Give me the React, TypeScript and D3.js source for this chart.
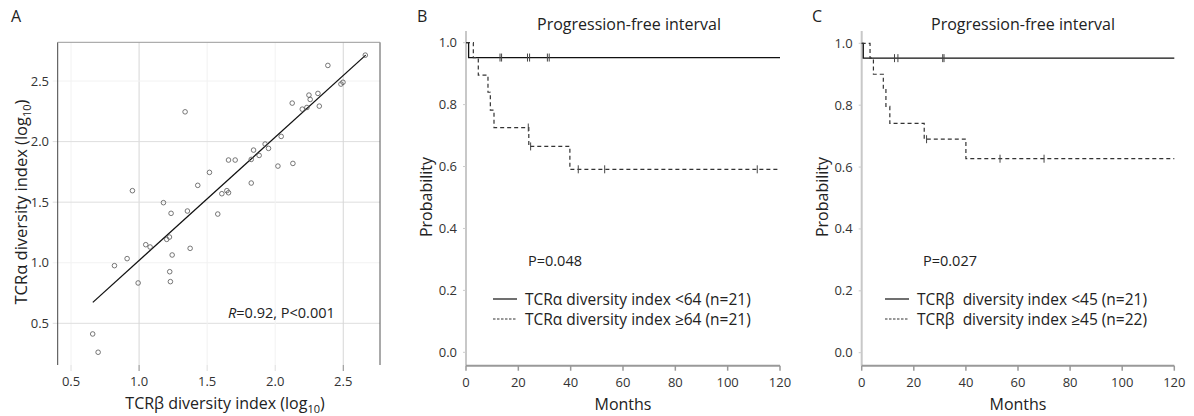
import React from "react";
import * as d3 from "d3";

// ---------- Panel A data ----------
const scatterX = [2.662, 2.387, 2.498, 2.483, 2.314, 2.248, 2.257, 2.324, 2.199, 2.233, 2.125, 2.044, 1.926, 1.951, 1.882, 1.841, 1.824, 1.657, 1.706, 2.02, 2.13, 1.517, 1.824, 1.431, 1.608, 1.645, 1.657, 1.355, 1.578, 1.338, 0.951, 1.179, 1.235, 1.223, 1.203, 1.049, 1.081, 1.375, 1.243, 0.912, 0.819, 1.225, 1.23, 0.993, 0.659, 0.699];
const scatterY = [2.714, 2.629, 2.49, 2.475, 2.398, 2.384, 2.348, 2.293, 2.268, 2.282, 2.318, 2.043, 1.98, 1.944, 1.886, 1.93, 1.853, 1.848, 1.848, 1.798, 1.82, 1.746, 1.658, 1.639, 1.57, 1.595, 1.578, 1.427, 1.402, 2.246, 1.595, 1.496, 1.408, 1.212, 1.193, 1.149, 1.13, 1.119, 1.064, 1.034, 0.976, 0.926, 0.844, 0.833, 0.412, 0.261];
const fitRange = [0.66, 2.665];
const fitSlope = 1.018;
const fitIntercept = 0.001;
const aTicks = [0.5, 1.0, 1.5, 2.0, 2.5];
const aGridX = [1.0, 2.5];
const aGridY = [0.5, 1.5, 2.0];

// ---------- Panel B data ----------
const bLowTimes = [0, 1];
const bLowSurv = [1, 0.952];
const bLowCens = [13.0, 13.6, 23.5, 24.3, 31.1, 31.8];
const bHighTimes = [0, 2.8, 4.7, 8.4, 9.3, 10.7, 24.0, 39.7];
const bHighSurv = [1, 0.952, 0.895, 0.84, 0.782, 0.726, 0.665, 0.591];
const bHighCens = [23.8, 24.7, 42.9, 53.0, 111.3];

// ---------- Panel C data ----------
const cLowTimes = [0, 0.6];
const cLowSurv = [1, 0.952];
const cLowCens = [12.6, 13.9, 31.1, 31.6];
const cHighTimes = [0, 3.2, 4.5, 8.3, 9.3, 10.8, 24.0, 40.0];
const cHighSurv = [1, 0.952, 0.9, 0.853, 0.796, 0.741, 0.69, 0.627];
const cHighCens = [24.9, 53.1, 70.0];

const kmXTicks = [0, 20, 40, 60, 80, 100, 120];
const kmYTicks = [0, 0.2, 0.4, 0.6, 0.8, 1.0];

const FONT = "'Open Sans', 'Noto Sans', sans-serif";
const TXT = "#333";

function survAt(times: number[], surv: number[], t: number) {
  let s = surv[0];
  for (let i = 0; i < times.length; i++) if (times[i] <= t) s = surv[i];
  return s;
}

function KMPanel(props: any) {
  const { x0, x1, y0, y1, letter, letterX, title, titleX, pText, pX, legend, legendX, low, high } = props;
  const x = d3.scaleLinear().domain([0, 120]).range([x0, x1]);
  const y = d3.scaleLinear().domain([0, 1]).range([y0, y1]);
  const axisY = 365.7;
  const line = d3.line<[number, number]>().x(d => x(d[0])).y(d => y(d[1])).curve(d3.curveStepAfter);
  const mk = (times: number[], surv: number[]) => {
    const pts: [number, number][] = times.map((t, i) => [t, surv[i]]);
    pts.push([120, surv[surv.length - 1]]);
    return line(pts) || "";
  };
  const cens = (times: number[], surv: number[], cs: number[], color: string) =>
    cs.map((c, i) => {
      const s = survAt(times, surv, c);
      return <line key={i} x1={x(c)} x2={x(c)} y1={y(s) - 4} y2={y(s) + 4} stroke={color} strokeWidth={1} />;
    });
  return (
    <g fontFamily={FONT}>
      <text x={letterX} y={22} fontSize={16} fill="#222">{letter}</text>
      <text x={titleX} y={30} fontSize={16} fill="#222" textAnchor="middle">{title}</text>
      <line x1={x0} x2={x0} y1={31} y2={axisY} stroke="#c8c8c8" strokeWidth={2} />
      <line x1={x0} x2={x1} y1={axisY} y2={axisY} stroke="#999" strokeWidth={2} />
      {kmXTicks.map(t => (
        <g key={t}>
          <line x1={x(t)} x2={x(t)} y1={axisY} y2={axisY + 5} stroke="#999" strokeWidth={1.5} />
          <text x={x(t)} y={387} fontSize={13} fill={TXT} textAnchor="middle">{t}</text>
        </g>
      ))}
      {kmYTicks.map(v => (
        <g key={v}>
          <line x1={x0 - 3} x2={x0} y1={y(v)} y2={y(v)} stroke="#ccc" strokeWidth={1} />
          <text x={x0 - 9} y={y(v) + 4.5} fontSize={13} fill={TXT} textAnchor="end">{v.toFixed(1)}</text>
        </g>
      ))}
      <text transform={`translate(${x0 - 34},197) rotate(-90)`} fontSize={16} fill="#222" textAnchor="middle">Probability</text>
      <text x={(x0 + x1) / 2} y={410} fontSize={16} fill="#222" textAnchor="middle">Months</text>
      <path d={mk(low.times, low.surv)} fill="none" stroke="#111" strokeWidth={1.3} />
      {cens(low.times, low.surv, low.cens, "#444")}
      <path d={mk(high.times, high.surv)} fill="none" stroke="#333" strokeWidth={1.2} strokeDasharray="4,3" />
      {cens(high.times, high.surv, high.cens, "#444")}
      <text x={pX} y={266} fontSize={14.5} fill="#222">{pText}</text>
      <line x1={legendX} x2={legendX + 24} y1={299} y2={299} stroke="#111" strokeWidth={1.2} />
      <text x={legendX + 32} y={304.5} fontSize={15.5} fill="#222" style={{ whiteSpace: "pre" }}>{legend[0]}</text>
      <line x1={legendX} x2={legendX + 24} y1={319} y2={319} stroke="#333" strokeWidth={1.2} strokeDasharray="2.5,1.5" />
      <text x={legendX + 32} y={324.5} fontSize={15.5} fill="#222" style={{ whiteSpace: "pre" }}>{legend[1]}</text>
    </g>
  );
}

function PanelA() {
  const x = d3.scaleLinear().domain([0.402, 2.77]).range([57.7, 380]);
  const y = d3.scaleLinear().domain([0.164, 2.82]).range([364, 42.3]);
  const L = 57.7, R = 380, T = 42.3, B = 365;
  return (
    <g fontFamily={FONT}>
      <text x={11} y={22} fontSize={16} fill="#222">A</text>
      {aTicks.map(v => (
        <g key={"g" + v}>
          <line x1={x(v)} x2={x(v)} y1={T} y2={B} stroke={aGridX.includes(v) ? "#d6d6d6" : "#f2f2f2"} strokeWidth={1} />
          <line x1={L - 5} x2={R} y1={y(v)} y2={y(v)} stroke={aGridY.includes(v) ? "#dedede" : "#f2f2f2"} strokeWidth={1} />
        </g>
      ))}
      <line x1={L} x2={L} y1={T} y2={B} stroke="#444" strokeWidth={1} />
      <line x1={R} x2={R} y1={T} y2={B} stroke="#555" strokeWidth={1} />
      <line x1={L} x2={R} y1={T} y2={T} stroke="#999" strokeWidth={1} />
      {aTicks.map(v => (
        <g key={v}>
          <line x1={x(v)} x2={x(v)} y1={B} y2={B + 6} stroke={aGridX.includes(v) ? "#888" : "#ddd"} strokeWidth={1} />
          <text x={x(v)} y={386} fontSize={13} fill={TXT} textAnchor="middle">{v.toFixed(1)}</text>
          <text x={49} y={y(v) + 4.5} fontSize={13} fill={TXT} textAnchor="end">{v.toFixed(1)}</text>
        </g>
      ))}
      <text transform="translate(27,202) rotate(-90)" fontSize={16.5} fill="#222" textAnchor="middle">
        TCRα diversity index (log<tspan fontSize={11} dy={4}>10</tspan><tspan dy={-4}>)</tspan>
      </text>
      <text x={225} y={409} fontSize={16} fill="#222" textAnchor="middle">
        TCRβ diversity index (log<tspan fontSize={11} dy={4}>10</tspan><tspan dy={-4}>)</tspan>
      </text>
      <line x1={x(fitRange[0])} y1={y(fitSlope * fitRange[0] + fitIntercept)} x2={x(fitRange[1])} y2={y(fitSlope * fitRange[1] + fitIntercept)} stroke="#111" strokeWidth={1.3} />
      {scatterX.map((v, i) => (
        <circle key={i} cx={x(v)} cy={y(scatterY[i])} r={2.3} fill="none" stroke="#555" strokeWidth={0.8} />
      ))}
      <text x={228} y={318} fontSize={14.5} fill="#222"><tspan fontStyle="italic">R</tspan>=0.92, P&lt;0.001</text>
    </g>
  );
}

export default function App() {
  return (
    <div style={{ position: "absolute", left: 0, top: 0 }}>
      <svg width={1194} height={416} style={{ display: "block", background: "#fff" }}>
        <PanelA />
        <KMPanel x0={466} x1={780} y0={352.3} y1={42.7} letter="B" letterX={417} title="Progression-free interval" titleX={629}
          pText="P=0.048" pX={528} legendX={493}
          legend={["TCRα diversity index <64 (n=21)", "TCRα diversity index ≥64 (n=21)"]}
          low={{ times: bLowTimes, surv: bLowSurv, cens: bLowCens }}
          high={{ times: bHighTimes, surv: bHighSurv, cens: bHighCens }} />
        <KMPanel x0={861.7} x1={1174.3} y0={352.7} y1={43.3} letter="C" letterX={812} title="Progression-free interval" titleX={1023}
          pText="P=0.027" pX={923} legendX={885}
          legend={["TCRβ  diversity index <45 (n=21)", "TCRβ  diversity index ≥45 (n=22)"]}
          low={{ times: cLowTimes, surv: cLowSurv, cens: cLowCens }}
          high={{ times: cHighTimes, surv: cHighSurv, cens: cHighCens }} />
      </svg>
    </div>
  );
}
